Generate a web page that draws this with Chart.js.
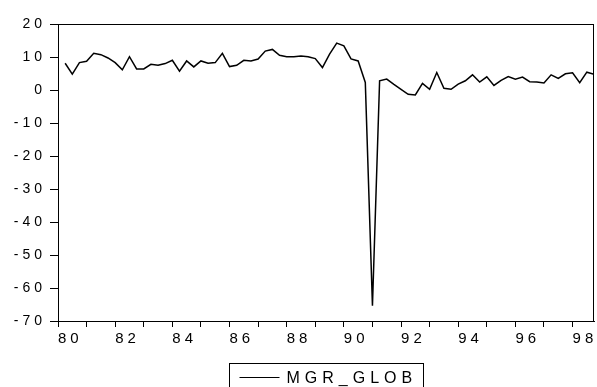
<!DOCTYPE html>
<html>
<head>
<meta charset="utf-8">
<script src="https://cdn.jsdelivr.net/npm/chart.js@4.4.1/dist/chart.umd.min.js"></script>
<style>
  html, body { margin: 0; padding: 0; background: #fff; }
  #wrap { width: 597px; height: 387px; }
</style>
</head>
<body>
<div id="wrap"><canvas id="chart"></canvas></div>
<script>
// MGR_GLOB, quarterly, 1980Q2 .. 1998Q4 (x index counts quarters from 1980Q1)
const seriesName = 'MGR_GLOB';
const firstIndex = 1;
const mgrGlob = [
  8.1, 4.8, 8.3, 8.7, 11.1, 10.7, 9.7, 8.3, 6.1, 10.1, 6.4, 6.4,
  7.8, 7.5, 8.0, 9.0, 5.7, 8.8, 7.0, 8.8, 8.1, 8.3, 11.1, 7.1,
  7.5, 9.0, 8.8, 9.4, 11.8, 12.3, 10.5, 10.1, 10.1, 10.3, 10.1, 9.5,
  6.8, 10.9, 14.2, 13.4, 9.4, 8.8, 2.3, -65.4, 2.8, 3.3, 1.7, 0.2,
  -1.3, -1.5, 2.0, 0.2, 5.3, 0.5, 0.2, 1.8, 2.8, 4.6, 2.4, 4.0,
  1.4, 2.9, 4.1, 3.3, 3.9, 2.5, 2.4, 2.1, 4.6, 3.5, 4.9, 5.2,
  2.2, 5.4, 4.8
];
// one entry per year 1980..1998, blank = unlabelled tick
const yearLabels = ['80', '', '82', '', '84', '', '86', '', '88', '', '90', '', '92', '', '94', '', '96', '', '98'];
const yTicks = [20, 10, 0, -10, -20, -30, -40, -50, -60, -70];

const points = mgrGlob.map((v, i) => ({ x: firstIndex + i, y: v }));

const spacing = {
  id: 'spacing',
  beforeLayout(chart) { chart.ctx.letterSpacing = '4px'; },
  beforeDraw(chart) { chart.ctx.letterSpacing = '4px'; }
};

const frameAndLegend = {
  id: 'frameAndLegend',
  afterDraw(chart) {
    const ctx = chart.ctx;
    const a = chart.chartArea;
    ctx.save();
    ctx.strokeStyle = '#000';
    ctx.lineWidth = 1;
    ctx.strokeRect(Math.round(a.left) + 0.5, Math.round(a.top) + 0.5,
      Math.round(a.right - a.left) - 1, Math.round(a.bottom - a.top));
    // legend box
    const cx = (a.left + a.right) / 2;
    const boxW = 194;
    const bx = Math.round(cx - boxW / 2) + 0.5;
    ctx.strokeRect(bx, 363.5, boxW, 40);
    ctx.beginPath();
    ctx.moveTo(bx + 10, 377.5);
    ctx.lineTo(bx + 50, 377.5);
    ctx.stroke();
    ctx.letterSpacing = '5px';
    ctx.font = '16px "Liberation Sans", Arial, sans-serif';
    ctx.fillStyle = '#000';
    ctx.textBaseline = 'alphabetic';
    ctx.fillText(seriesName, bx + 57, 383);
    ctx.restore();
  }
};

new Chart(document.getElementById('chart'), {
  type: 'line',
  data: {
    datasets: [{
      label: seriesName,
      data: points,
      borderColor: '#000',
      borderWidth: 1.5,
      pointRadius: 0,
      tension: 0,
      fill: false
    }]
  },
  options: {
    responsive: true,
    maintainAspectRatio: false,
    animation: false,
    layout: { padding: { top: 24, right: 3, left: 0, bottom: 0 } },
    plugins: { legend: { display: false }, tooltip: { enabled: false } },
    scales: {
      x: {
        type: 'linear',
        min: 0,
        max: firstIndex + mgrGlob.length - 1,
        afterBuildTicks(scale) { scale.ticks = yearLabels.map((_, i) => ({ value: i * 4 })); },
        afterFit(scale) { scale.height = 66; scale.paddingLeft = 0; scale.paddingRight = 0; },
        ticks: {
          autoSkip: false,
          maxRotation: 0,
          align: 'start',
          padding: 3,
          color: '#000',
          font: { family: '"Liberation Sans", Arial, sans-serif', size: 15 },
          callback: (v) => yearLabels[Math.round(v / 4)]
        },
        grid: { drawOnChartArea: false, drawTicks: true, tickLength: 6, color: '#000' },
        border: { display: true, color: '#000', width: 1 }
      },
      y: {
        min: -70,
        max: 20,
        afterBuildTicks(scale) { scale.ticks = yTicks.map(v => ({ value: v })); },
        afterFit(scale) { scale.width = 58; },
        ticks: {
          padding: 4,
          color: '#000',
          font: { family: '"Liberation Sans", Arial, sans-serif', size: 14 },
          callback: (v) => String(v)
        },
        grid: { drawOnChartArea: false, drawTicks: true, tickLength: 8, color: '#000' },
        border: { display: true, color: '#000', width: 1 }
      }
    }
  },
  plugins: [spacing, frameAndLegend]
});
</script>
</body>
</html>
